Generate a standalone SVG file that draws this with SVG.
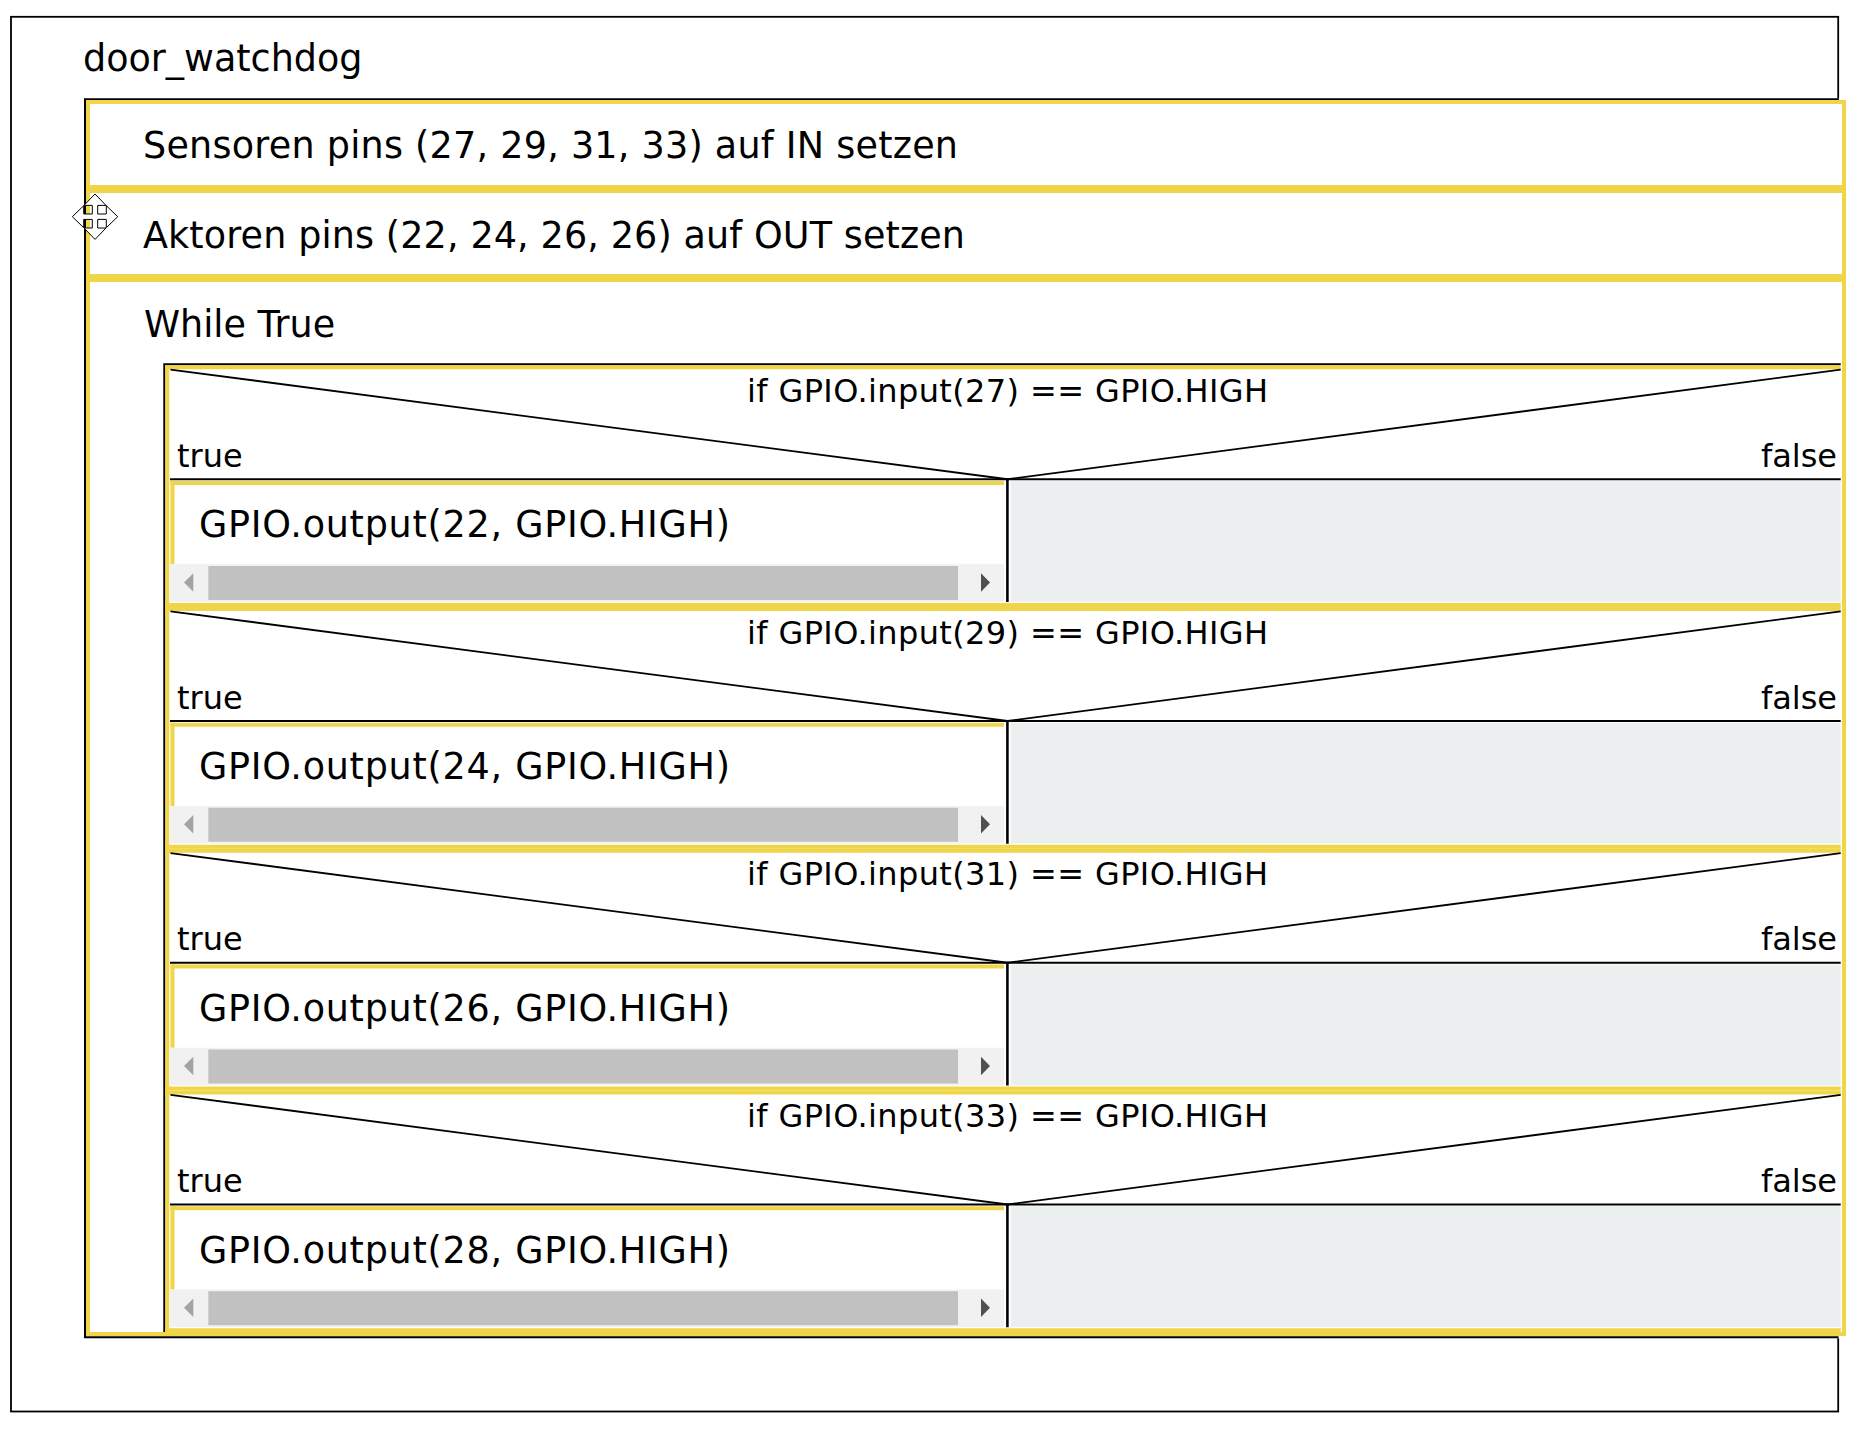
<svg xmlns="http://www.w3.org/2000/svg" width="1853" height="1430" viewBox="0 0 1853 1430">
  <style>
    text { font-family: "DejaVu Sans", "Liberation Sans", sans-serif; fill: #000; }
    .main { font-size: 36.5px; }
    .cond { font-size: 32px; }
    .yb { fill: none; stroke: #f0d548; stroke-width: 4; }
    .yf { fill: #f0d548; }
    .ln { fill: none; stroke: #000; stroke-width: 2; }
    .diag { fill: none; stroke: #000; stroke-width: 1.8; }
    .div { fill: none; stroke: #000; stroke-width: 2.6; }
    .sb { fill: #f1f1f1; }
    .thumb { fill: #c1c1c1; }
    .arrL { fill: #a3a3a3; }
    .arrR { fill: #505050; }
    .empty { fill: #ebeff0; }
  </style>
  <defs>
    <!-- frame of one if-element: yellow border, decision triangle, branch split, scroll bar -->
    <g id="ifFrame">
      <rect class="yf" x="165.3" y="0" width="1675.4" height="4"/>
      <rect class="yf" x="165.3" y="0" width="4" height="241.75"/>
      <rect class="yf" x="165.3" y="237.75" width="1675.4" height="4"/>
      <polyline class="diag" points="170.5,4.3 1007.5,114 1840.7,4.3"/>
      <line class="ln" x1="170" y1="114" x2="1840.7" y2="114"/>
      <rect class="empty" x="1010.7" y="115.75" width="830" height="120.75"/>
      <line class="div" x1="1007.4" y1="113" x2="1007.4" y2="236.75"/>
      <rect class="yf" x="170.5" y="115.75" width="833.5" height="4"/>
      <rect class="yf" x="170.5" y="115.75" width="4" height="83.25"/>
      <rect class="sb" x="169.5" y="199" width="834.5" height="37.5"/>
      <rect class="thumb" x="208.3" y="200.75" width="749.7" height="34"/>
      <path class="arrL" d="M184,217.25 L193.3,208 V226.5 Z"/>
      <path class="arrR" d="M990,217.25 L981,208 V226.5 Z"/>
    </g>
  </defs>

  <rect x="0" y="0" width="1853" height="1430" fill="#fff"/>

  <!-- program frame -->
  <g id="program">
    <rect x="11" y="16.8" width="1827.2" height="1394.7" fill="#fff" stroke="#000" stroke-width="1.8"/>
    <text class="main" x="83" y="70.7">door_watchdog</text>
  </g>

  <!-- body of the program -->
  <g id="body">
    <rect x="84" y="98.3" width="1762" height="1240" fill="#fff"/>
    <path class="ln" d="M1839,99.2 H85 V1337.3 H1838.5"/>
  </g>

  <g id="stmt-sensoren">
    <rect class="yb" x="88" y="102" width="1756" height="85"/>
    <text class="main" x="143" y="158.3" textLength="815">Sensoren pins (27, 29, 31, 33) auf IN setzen</text>
  </g>

  <g id="stmt-aktoren">
    <rect class="yb" x="88" y="191" width="1756" height="85"/>
    <text class="main" x="143" y="248.3" textLength="822">Aktoren pins (22, 24, 26, 26) auf OUT setzen</text>
  </g>

  <g id="loop-while">
    <rect class="yb" x="88" y="280" width="1756" height="1054"/>
    <text class="main" x="144" y="336.7">While True</text>
    <path class="ln" d="M1840.7,364.3 H164.3 V1332"/>
  </g>

  <g id="if-27" transform="translate(0,365.25)">
    <use href="#ifFrame"/>
    <text class="cond" x="747" y="36.5" textLength="521">if GPIO.input(27) == GPIO.HIGH</text>
    <text class="cond" x="177" y="101.5">true</text>
    <text class="cond" x="1837" y="101.5" text-anchor="end">false</text>
    <text class="main" x="199" y="172" textLength="531">GPIO.output(22, GPIO.HIGH)</text>
  </g>

  <g id="if-29" transform="translate(0,607)">
    <use href="#ifFrame"/>
    <text class="cond" x="747" y="36.5" textLength="521">if GPIO.input(29) == GPIO.HIGH</text>
    <text class="cond" x="177" y="101.5">true</text>
    <text class="cond" x="1837" y="101.5" text-anchor="end">false</text>
    <text class="main" x="199" y="172" textLength="531">GPIO.output(24, GPIO.HIGH)</text>
  </g>

  <g id="if-31" transform="translate(0,848.75)">
    <use href="#ifFrame"/>
    <text class="cond" x="747" y="36.5" textLength="521">if GPIO.input(31) == GPIO.HIGH</text>
    <text class="cond" x="177" y="101.5">true</text>
    <text class="cond" x="1837" y="101.5" text-anchor="end">false</text>
    <text class="main" x="199" y="172" textLength="531">GPIO.output(26, GPIO.HIGH)</text>
  </g>

  <g id="if-33" transform="translate(0,1090.5)">
    <use href="#ifFrame"/>
    <text class="cond" x="747" y="36.5" textLength="521">if GPIO.input(33) == GPIO.HIGH</text>
    <text class="cond" x="177" y="101.5">true</text>
    <text class="cond" x="1837" y="101.5" text-anchor="end">false</text>
    <text class="main" x="199" y="172" textLength="531">GPIO.output(28, GPIO.HIGH)</text>
  </g>

  <!-- move cursor hovering over the second statement -->
  <g id="cursor" transform="translate(95,216.7)">
    <path d="M0,-22.7 L11,-11.3 H2.7 V-2.7 H11.3 V-11 L22.7,0 L11.3,11 V2.7 H2.7 V11.3 H11 L0,22.7 L-11,11.3 H-2.7 V2.7 H-11.3 V11 L-22.7,0 L-11.3,-11 V-2.7 H-2.7 V-11.3 H-11 Z" fill="#fff" stroke="#000" stroke-width="1"/>
  </g>
</svg>
